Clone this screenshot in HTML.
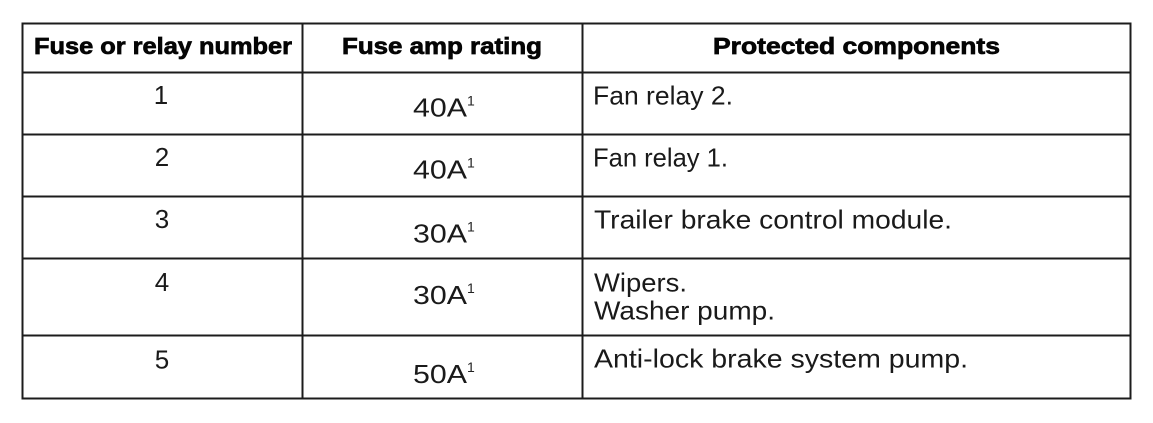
<!DOCTYPE html>
<html>
<head>
<meta charset="utf-8">
<style>
  html,body{margin:0;padding:0;background:#fff;}
  body{width:1153px;height:423px;overflow:hidden;}
  svg{display:block;}
  .h{font-family:"Liberation Sans",sans-serif;font-weight:bold;font-size:23px;fill:#050505;stroke:#050505;stroke-width:0.7px;}
  .t{font-family:"Liberation Sans",sans-serif;font-size:26px;fill:#1a1a1a;}
  .s{font-family:"Liberation Sans",sans-serif;font-size:14px;fill:#222;}
</style>
</head>
<body>
<svg width="1153" height="423" viewBox="0 0 1153 423" xmlns="http://www.w3.org/2000/svg">
  <rect x="0" y="0" width="1153" height="423" fill="#fff"/>
  <g stroke="#1c1c1c" stroke-width="2" fill="none">
    <rect x="22.5" y="23.5" width="1108" height="375"/>
    <line x1="22.5" y1="72.5" x2="1130.5" y2="72.5"/>
    <line x1="22.5" y1="134.5" x2="1130.5" y2="134.5"/>
    <line x1="22.5" y1="196.5" x2="1130.5" y2="196.5"/>
    <line x1="22.5" y1="258.5" x2="1130.5" y2="258.5"/>
    <line x1="22.5" y1="335.5" x2="1130.5" y2="335.5"/>
    <line x1="302.5" y1="23.5" x2="302.5" y2="398.5"/>
    <line x1="582.5" y1="23.5" x2="582.5" y2="398.5"/>
  </g>

  <!-- header -->
  <text class="h" x="34" y="54" textLength="258" lengthAdjust="spacingAndGlyphs">Fuse or relay number</text>
  <text class="h" x="342" y="54" textLength="200" lengthAdjust="spacingAndGlyphs">Fuse amp rating</text>
  <text class="h" x="713" y="54" textLength="287" lengthAdjust="spacingAndGlyphs">Protected components</text>

  <!-- row 1 -->
  <text class="t" x="161" y="104" text-anchor="middle">1</text>
  <text class="t" x="413" y="116.5" textLength="54" lengthAdjust="spacingAndGlyphs">40A</text>
  <text class="s" x="467" y="105.5">1</text>
  <text class="t" x="593" y="104.3" textLength="140" lengthAdjust="spacingAndGlyphs">Fan relay 2.</text>

  <!-- row 2 -->
  <text class="t" x="162" y="166" text-anchor="middle">2</text>
  <text class="t" x="413" y="178.5" textLength="54" lengthAdjust="spacingAndGlyphs">40A</text>
  <text class="s" x="467" y="167.5">1</text>
  <text class="t" x="593" y="166.3" textLength="135" lengthAdjust="spacingAndGlyphs">Fan relay 1.</text>

  <!-- row 3 -->
  <text class="t" x="162" y="228" text-anchor="middle">3</text>
  <text class="t" x="413" y="242.5" textLength="54" lengthAdjust="spacingAndGlyphs">30A</text>
  <text class="s" x="467" y="231.5">1</text>
  <text class="t" x="594" y="228.3" textLength="358" lengthAdjust="spacingAndGlyphs">Trailer brake control module.</text>

  <!-- row 4 -->
  <text class="t" x="162" y="291" text-anchor="middle">4</text>
  <text class="t" x="413" y="304" textLength="54" lengthAdjust="spacingAndGlyphs">30A</text>
  <text class="s" x="467" y="293">1</text>
  <text class="t" x="594" y="291.7" textLength="93" lengthAdjust="spacingAndGlyphs">Wipers.</text>
  <text class="t" x="594" y="319.3" textLength="181" lengthAdjust="spacingAndGlyphs">Washer pump.</text>

  <!-- row 5 -->
  <text class="t" x="162" y="368.5" text-anchor="middle">5</text>
  <text class="t" x="413" y="383" textLength="54" lengthAdjust="spacingAndGlyphs">50A</text>
  <text class="s" x="467" y="372">1</text>
  <text class="t" x="594" y="367.7" textLength="374" lengthAdjust="spacingAndGlyphs">Anti-lock brake system pump.</text>
</svg>
</body>
</html>
